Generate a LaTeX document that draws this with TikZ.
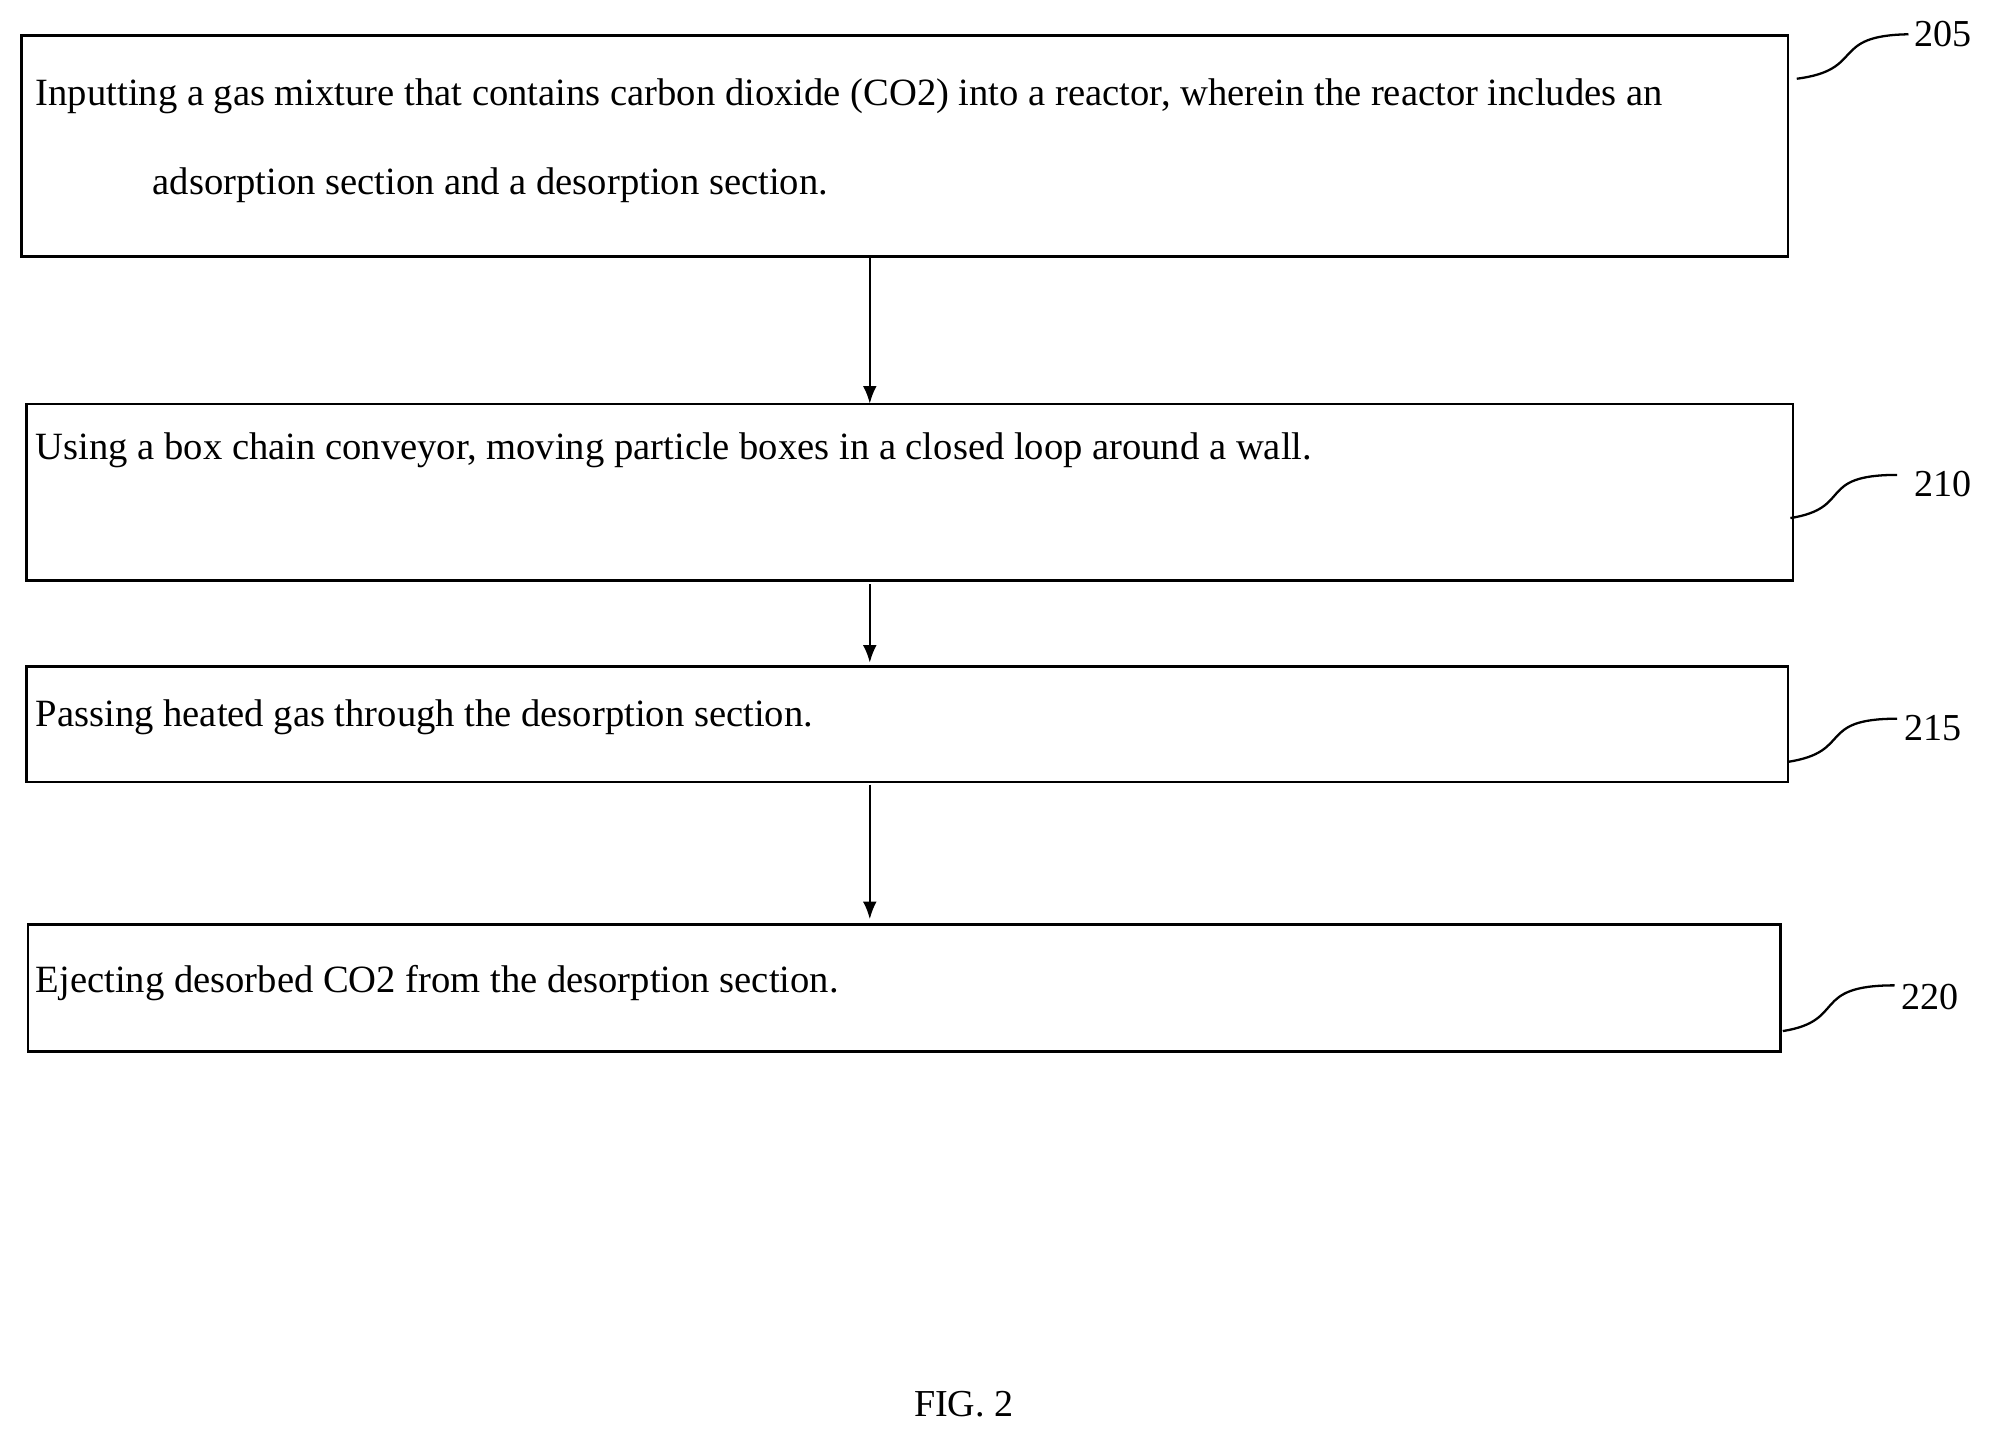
\documentclass[tikz,border=0pt]{standalone}
\usepackage{fontspec}
\setmainfont{Liberation Serif}
\usetikzlibrary{arrows.meta}
\begin{document}
\begin{tikzpicture}[x=1pt,y=-1pt,
  boxst/.style={draw,line width=2pt,inner sep=0pt},
  txt/.style={anchor=base west,inner sep=0pt,font=\fontsize{30.4}{34}\selectfont},
  lbl/.style={inner sep=0pt,font=\fontsize{30}{34}\selectfont},
  arr/.style={-{Latex[length=14pt,width=11pt]},line width=2pt},
  lead/.style={line width=1.8pt}]
\useasboundingbox (0,0) rectangle (1568,1132);
\draw[boxst] (17,28) rectangle (1408,202);
\draw[boxst] (21,318) rectangle (1412,457);
\draw[boxst] (21,525) rectangle (1408,616);
\draw[boxst] (22,728) rectangle (1402,828);
\coordinate (a1s) at (685,203); \coordinate (a1e) at (685,318);
\coordinate (a2s) at (685,460); \coordinate (a2e) at (685,522);
\coordinate (a3s) at (685,618); \coordinate (a3e) at (685,724);
\draw[arr] (a1s) -- (a1e);
\draw[arr] (a2s) -- (a2e);
\draw[arr] (a3s) -- (a3e);
\node[txt] (t1a) at (28,83) {Inputting a gas mixture that contains carbon dioxide (CO2) into a reactor, wherein the reactor includes an};
\node[txt] (t1b) at (120,153) {adsorption section and a desorption section.};
\node[txt] (t2) at (28,362) {Using a box chain conveyor, moving particle boxes in a closed loop around a wall.};
\node[txt] (t3) at (28,572) {Passing heated gas through the desorption section.};
\node[txt] (t4) at (28,782) {Ejecting desorbed CO2 from the desorption section.};
\node[lbl] (l1) at (1530,27) {205};
\node[lbl] (l2) at (1530,381) {210};
\node[lbl] (l3) at (1522,573) {215};
\node[lbl] (l4) at (1520,785) {220};
\coordinate (c1) at (1415,62); \coordinate (c2) at (1410,408);
\coordinate (c3) at (1408,600); \coordinate (c4) at (1404,812);
\draw[lead] (c1) .. controls (1470,55) and (1440,28) .. (1503,27);
\draw[lead] (c2) .. controls (1460,400) and (1430,374) .. (1494,374);
\draw[lead] (c3) .. controls (1460,592) and (1430,566) .. (1494,566);
\draw[lead] (c4) .. controls (1455,804) and (1425,776) .. (1492,776);
\node[lbl] (fig) at (759,1106) {FIG. 2};
\end{tikzpicture}
\end{document}
